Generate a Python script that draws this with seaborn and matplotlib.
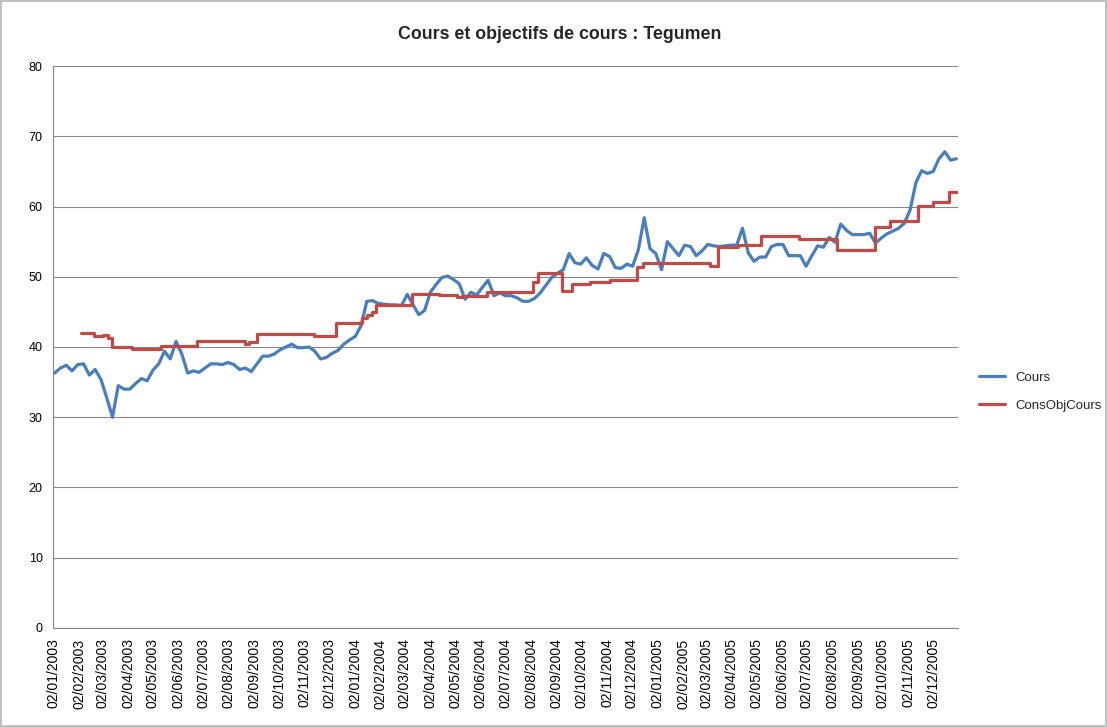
import pandas as pd
import numpy as np
import matplotlib
matplotlib.use("Agg")
import matplotlib.pyplot as plt
import matplotlib.dates as mdates
import seaborn as sns

# Cours et objectifs de cours - Tegumen (2003-2005)

# weekly closing prices (Fridays)
cours_dates = pd.date_range("2003-01-03", "2005-12-30", freq="W-FRI")
cours = [
    36.3, 37.0, 37.4, 36.6, 37.5, 37.6, 36.0, 36.8, 35.4, 32.8,
    30.0, 34.5, 34.0, 34.0, 34.8, 35.5, 35.2, 36.7, 37.6, 39.4,
    38.3, 40.8, 39.0, 36.3, 36.6, 36.4, 37.0, 37.6, 37.6, 37.5,
    37.8, 37.5, 36.8, 37.0, 36.5, 37.6, 38.7, 38.7, 39.0, 39.6,
    40.0, 40.4, 39.9, 39.9, 40.0, 39.4, 38.3, 38.5, 39.1, 39.5,
    40.4, 41.0, 41.5, 43.0, 46.5, 46.6, 46.2, 46.1, 46.0, 46.0,
    45.9, 47.5, 46.0, 44.6, 45.2, 47.8, 48.9, 49.9, 50.1, 49.6,
    49.0, 46.8, 47.8, 47.4, 48.5, 49.5, 47.3, 47.7, 47.3, 47.3,
    47.0, 46.5, 46.5, 46.9, 47.7, 48.8, 49.9, 50.5, 51.0, 53.3,
    52.0, 51.8, 52.7, 51.6, 51.1, 53.3, 52.9, 51.3, 51.2, 51.8,
    51.5, 53.9, 58.4, 54.0, 53.3, 51.0, 55.0, 54.0, 53.0, 54.5,
    54.3, 53.0, 53.7, 54.6, 54.4, 54.3, 54.4, 54.5, 54.5, 56.9,
    53.4, 52.2, 52.8, 52.8, 54.3, 54.6, 54.6, 53.0, 53.0, 53.0,
    51.5, 53.0, 54.4, 54.2, 55.6, 54.9, 57.5, 56.6, 56.0, 56.0,
    56.0, 56.2, 54.8, 55.5, 56.1, 56.5, 56.9, 57.6, 59.5, 63.4,
    65.1, 64.7, 65.0, 66.8, 67.8, 66.6, 66.8,
]

# consensus price target: dates where it changes and the new level
obj_dates = pd.to_datetime([
    "2003-02-04", "2003-02-20", "2003-03-02", "2003-03-08", "2003-03-13",
    "2003-04-07", "2003-05-12", "2003-06-24", "2003-08-22", "2003-08-26",
    "2003-09-05", "2003-11-13", "2003-12-10", "2004-01-10", "2004-01-16",
    "2004-01-22", "2004-01-27", "2004-03-11", "2004-04-13", "2004-05-04",
    "2004-05-10", "2004-06-10", "2004-08-04", "2004-08-10", "2004-09-09",
    "2004-09-21", "2004-10-12", "2004-11-05", "2004-12-08", "2004-12-15",
    "2005-03-07", "2005-03-16", "2005-04-10", "2005-05-07", "2005-06-22",
    "2005-08-08", "2005-09-23", "2005-10-11", "2005-11-13", "2005-12-02",
    "2005-12-21", "2005-12-31",
])
obj_cours = [
    42.0, 41.5, 41.7, 41.3, 40.0,
    39.7, 40.1, 40.8, 40.4, 40.7,
    41.8, 41.5, 43.4, 44.1, 44.6,
    45.0, 46.0, 47.6, 47.4, 47.1,
    47.3, 47.8, 49.3, 50.6, 48.0,
    49.0, 49.3, 49.6, 51.4, 52.0,
    51.6, 54.2, 54.5, 55.8, 55.4,
    53.8, 57.1, 57.9, 60.1, 60.6,
    62.1, 62.1,
]

df_cours = pd.DataFrame({"date": cours_dates, "valeur": cours})
df_obj = pd.DataFrame({"date": obj_dates, "valeur": obj_cours})

sns.set_style("white")
plt.rcParams["font.family"] = ["Liberation Sans", "DejaVu Sans"]

fig = plt.figure(figsize=(11.07, 7.27), dpi=100)
ax = fig.add_axes([0.0479, 0.1362, 0.8175, 0.7730])

sns.lineplot(x="date", y="valeur", data=df_cours, ax=ax, color="#4A7EBB",
             linewidth=2.3, label="Cours")
sns.lineplot(x="date", y="valeur", data=df_obj, ax=ax, color="#BE4B48",
             linewidth=2.3, drawstyle="steps-post", label="ConsObjCours")

ax.set_ylim(0, 80)
ax.set_yticks(range(0, 81, 10))
ax.set_xlim(pd.Timestamp("2003-01-01"), pd.Timestamp("2006-01-01"))
ticks = pd.date_range("2003-01-01", "2005-12-01", freq="MS") + pd.Timedelta(days=1)
ax.set_xticks(ticks)
ax.xaxis.set_major_formatter(mdates.DateFormatter("%d/%m/%Y"))
plt.setp(ax.get_xticklabels(), rotation=90)
ax.tick_params(axis="x", labelsize=10)
ax.tick_params(axis="y", labelsize=9)
ax.tick_params(axis="both", colors="#000000", length=4, direction="out",
               width=0.8)
ax.tick_params(axis="both", color="#868686")

ax.grid(axis="y", color="#868686", linewidth=0.8)
ax.set_axisbelow(True)
for s in ["top", "right"]:
    ax.spines[s].set_visible(False)
for s in ["left", "bottom"]:
    ax.spines[s].set_color("#868686")
    ax.spines[s].set_linewidth(0.8)

ax.set_xlabel("")
ax.set_ylabel("")
# Excel centres the title on the whole chart area, not the plot area
fig.text(0.506, 0.952, "Cours et objectifs de cours : Tegumen", fontsize=12.8,
         fontweight="bold", ha="center", va="center")

ax.legend(loc="center left", bbox_to_anchor=(1.01, 0.42), frameon=False,
          fontsize=9.5, handlelength=2.0, labelspacing=1.2)

fig.patch.set_edgecolor("#BFBFBF")
fig.patch.set_linewidth(1.5)

plt.savefig("out.png", dpi=100, edgecolor=fig.get_edgecolor())
